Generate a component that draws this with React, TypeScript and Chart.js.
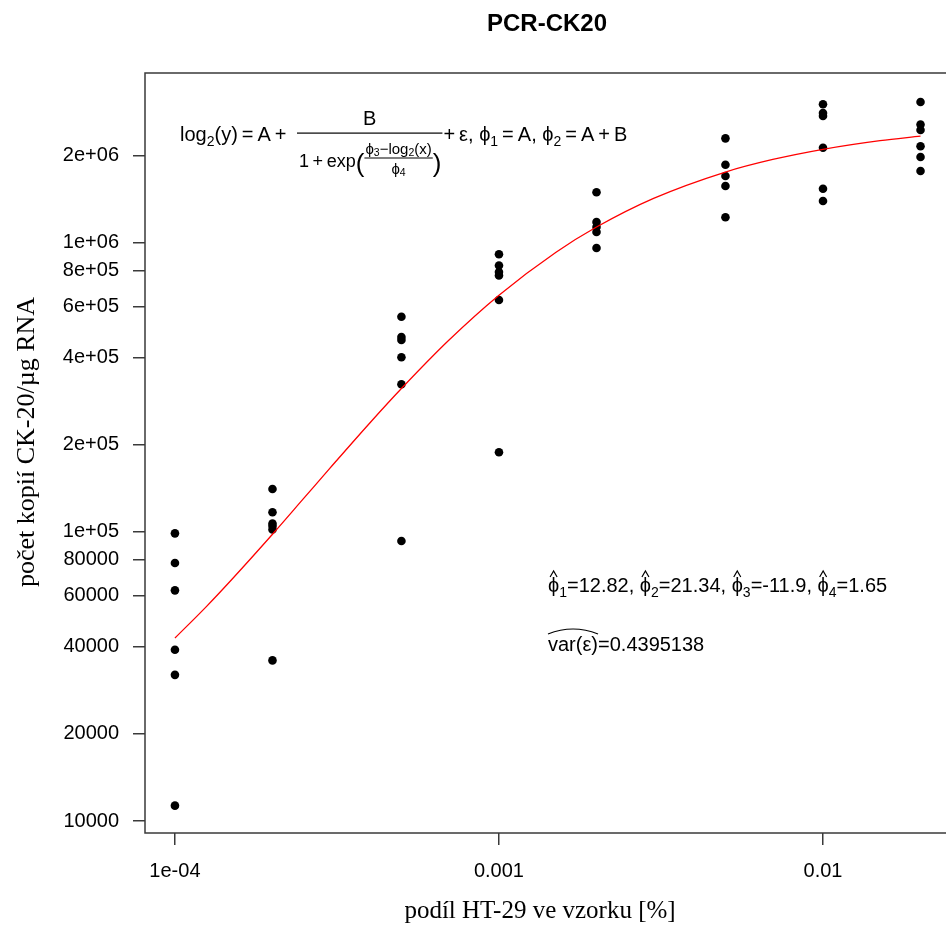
import React, { useEffect, useRef } from "react";
import { Chart, registerables } from "chart.js";

Chart.register(...registerables);

// ---- data ----
const DOSES = [1e-4, 2e-4, 5e-4, 1e-3, 2e-3, 5e-3, 1e-2, 2e-2];
const COPIES_0_0001 = [98700, 77950, 62700, 39100, 32000, 11300];
const COPIES_0_0002 = [140500, 116700, 106700, 104600, 101800, 35900];
const COPIES_0_0005 = [553600, 471000, 459700, 400700, 323200, 92900];
const COPIES_0_001 = [909700, 832100, 790000, 768500, 632200, 188200];
const COPIES_0_002 = [1490000, 1176000, 1130000, 1086000, 956000];
const COPIES_0_005 = [2289000, 1856000, 1697000, 1566000, 1221000];
const COPIES_0_01 = [3002000, 2801000, 2735000, 2125000, 1533000, 1390000];
const COPIES_0_02 = [3057000, 2556000, 2447000, 2149000, 1973000, 1766000];
const GROUPS = [
  COPIES_0_0001,
  COPIES_0_0002,
  COPIES_0_0005,
  COPIES_0_001,
  COPIES_0_002,
  COPIES_0_005,
  COPIES_0_01,
  COPIES_0_02,
];

// fitted curve
const CURVE_X = [1e-4, 1.25e-4, 1.5e-4, 2e-4, 2.5e-4, 3e-4, 4e-4, 5e-4, 7e-4, 1e-3, 1.5e-3, 2e-3, 3e-3, 5e-3, 7e-3, 1e-2, 1.5e-2, 2e-2];
const CURVE_Y = [42900, 55100, 68500, 98000, 130600, 165200, 238100, 312600, 458900, 656800, 924900, 1130000, 1419600, 1751000, 1935000, 2098000, 2248000, 2330000];

const X_TICKS = [1e-4, 1e-3, 1e-2];
const X_TICK_LABELS = ["1e-04", "0.001", "0.01"];
const Y_TICKS = [10000, 20000, 40000, 60000, 80000, 1e5, 2e5, 4e5, 6e5, 8e5, 1e6, 2e6];
const Y_TICK_LABELS = ["10000", "20000", "40000", "60000", "80000", "1e+05", "2e+05", "4e+05", "6e+05", "8e+05", "1e+06", "2e+06"];

const X_MIN = 8.083e-5;
const X_MAX = 0.02466;
const Y_MIN = 9089;
const Y_MAX = 3851000;

const TITLE = "PCR-CK20";
const X_TITLE = "podíl HT-29 ve vzorku [%]";
const Y_TITLE = "počet kopií CK-20/µg RNA";
const PHI_HATS = ["12.82", "21.34", "-11.9", "1.65"];
const VAR_EPS = "0.4395138";

const SANS = '"Liberation Sans", Arial, Helvetica, sans-serif';
const SERIF = '"Liberation Serif", "Times New Roman", Times, serif';
const TS = "\u2009"; // thin space

type Run = { t: string; s: number; dy?: number; hat?: boolean };

function drawRuns(ctx: CanvasRenderingContext2D, x: number, y: number, runs: Run[]) {
  let cx = x;
  for (const r of runs) {
    ctx.font = `${r.s}px ${SANS}`;
    ctx.fillText(r.t, cx, y + (r.dy || 0));
    const w = ctx.measureText(r.t).width;
    if (r.hat) {
      const hx = cx + w / 2;
      ctx.beginPath();
      ctx.moveTo(hx - 3.5, y - 15);
      ctx.lineTo(hx, y - 21);
      ctx.lineTo(hx + 3.5, y - 15);
      ctx.lineWidth = 1.2;
      ctx.stroke();
    }
    cx += w;
  }
  return cx;
}

function runsWidth(ctx: CanvasRenderingContext2D, runs: Run[]) {
  let w = 0;
  for (const r of runs) {
    ctx.font = `${r.s}px ${SANS}`;
    w += ctx.measureText(r.t).width;
  }
  return w;
}

const decorPlugin = {
  id: "decor",
  afterDraw(chart: any) {
    const ctx: CanvasRenderingContext2D = chart.ctx;
    const a = chart.chartArea;
    ctx.save();
    // frame
    ctx.strokeStyle = "#3a3a3a";
    ctx.lineWidth = 1.5;
    ctx.strokeRect(a.left, a.top, a.right - a.left, a.bottom - a.top);

    ctx.fillStyle = "#000";
    ctx.strokeStyle = "#000";
    // main title
    ctx.font = `bold 24px ${SANS}`;
    ctx.textAlign = "center";
    ctx.textBaseline = "alphabetic";
    ctx.fillText(TITLE, 547, 31);

    // axis titles
    ctx.font = `25px ${SERIF}`;
    ctx.textBaseline = "middle";
    ctx.fillText(X_TITLE, 540, 911);
    ctx.font = `26px ${SERIF}`;
    ctx.save();
    ctx.translate(27, 442);
    ctx.rotate(-Math.PI / 2);
    ctx.fillText(Y_TITLE, 0, 0);
    ctx.restore();

    // formula
    ctx.textAlign = "left";
    ctx.textBaseline = "alphabetic";
    drawRuns(ctx, 180, 141, [
      { t: "log", s: 20 },
      { t: "2", s: 14, dy: 5 },
      { t: `(y)${TS}=${TS}A${TS}+`, s: 20 },
    ]);
    // denominator
    const den1: Run[] = [{ t: `1${TS}+${TS}exp`, s: 18 }];
    const innerNum: Run[] = [
      { t: "ϕ", s: 15 },
      { t: "3", s: 10.5, dy: 2 },
      { t: "−log", s: 15 },
      { t: "2", s: 10.5, dy: 2 },
      { t: "(x)", s: 15 },
    ];
    const innerDen: Run[] = [
      { t: "ϕ", s: 15 },
      { t: "4", s: 10.5, dy: 2 },
    ];
    const barL = 297;
    let dx = drawRuns(ctx, barL + 2, 167, den1);
    ctx.font = `26px ${SANS}`;
    ctx.fillText("(", dx, 172);
    dx += ctx.measureText("(").width;
    const wn = runsWidth(ctx, innerNum);
    const wd = runsWidth(ctx, innerDen);
    const innerC = dx + wn / 2 + 1;
    drawRuns(ctx, innerC - wn / 2, 154, innerNum);
    ctx.fillRect(dx, 157.5, wn + 2, 1);
    drawRuns(ctx, innerC - wd / 2, 174, innerDen);
    dx += wn + 2;
    ctx.font = `26px ${SANS}`;
    ctx.fillText(")", dx, 172);
    dx += ctx.measureText(")").width;
    const barR = dx + 1;
    ctx.fillRect(barL, 132.5, barR - barL, 1.2);
    ctx.font = `20px ${SANS}`;
    ctx.textAlign = "center";
    ctx.fillText("B", (barL + barR) / 2, 125);
    ctx.textAlign = "left";
    drawRuns(ctx, barR + 1, 141, [
      { t: `+${TS}ε, ϕ`, s: 20 },
      { t: "1", s: 14, dy: 5 },
      { t: `${TS}=${TS}A, ϕ`, s: 20 },
      { t: "2", s: 14, dy: 5 },
      { t: `${TS}=${TS}A${TS}+${TS}B`, s: 20 },
    ]);

    // estimates
    const est: Run[] = [];
    PHI_HATS.forEach((v, i) => {
      est.push({ t: "ϕ", s: 20, hat: true });
      est.push({ t: String(i + 1), s: 14, dy: 5 });
      est.push({ t: "=" + v + (i < PHI_HATS.length - 1 ? ", " : ""), s: 20 });
    });
    drawRuns(ctx, 548, 592, est);

    // variance
    ctx.font = `20px ${SANS}`;
    const wv = ctx.measureText("var(ε)").width;
    ctx.fillText("var(ε)=" + VAR_EPS, 548, 651);
    ctx.beginPath();
    ctx.moveTo(548, 634);
    ctx.quadraticCurveTo(548 + wv / 2, 624, 548 + wv, 634);
    ctx.lineWidth = 1.2;
    ctx.stroke();

    ctx.restore();
  },
};

export default function App() {
  const ref = useRef<HTMLCanvasElement>(null);
  useEffect(() => {
    const canvas = ref.current;
    if (!canvas) return;
    const points: { x: number; y: number }[] = [];
    GROUPS.forEach((g, i) => g.forEach((v) => points.push({ x: DOSES[i], y: v })));
    const curve = CURVE_X.map((x, i) => ({ x, y: CURVE_Y[i] }));

    const axisGrid = {
      display: true,
      drawOnChartArea: false,
      drawTicks: true,
      tickLength: 12,
      color: "#3a3a3a",
      lineWidth: 1.5,
    };

    const chart = new Chart(canvas, {
      type: "scatter",
      data: {
        datasets: [
          {
            label: "fit",
            data: curve,
            showLine: true,
            borderColor: "#ff0000",
            borderWidth: 1.3,
            pointRadius: 0,
            cubicInterpolationMode: "monotone",
            order: 0,
          } as any,
          {
            label: "data",
            data: points,
            showLine: false,
            pointRadius: 4.3,
            pointBackgroundColor: "#000",
            pointBorderWidth: 0,
            order: 1,
          } as any,
        ],
      },
      options: {
        responsive: false,
        animation: false,
        devicePixelRatio: 1,
        layout: { padding: { top: 73, left: 0, right: 10, bottom: 0 } },
        plugins: {
          legend: { display: false },
          tooltip: { enabled: false },
          title: { display: false },
        },
        scales: {
          x: {
            type: "logarithmic",
            position: "bottom",
            min: X_MIN,
            max: X_MAX,
            afterBuildTicks: (s: any) => {
              s.ticks = X_TICKS.map((v) => ({ value: v }));
            },
            afterFit: (s: any) => {
              s.height = 96;
            },
            ticks: {
              autoSkip: false,
              maxRotation: 0,
              minRotation: 0,
              padding: 14,
              color: "#000",
              font: { family: SANS, size: 20 },
              callback: (_v: any, i: number) => X_TICK_LABELS[i],
            },
            grid: axisGrid,
            border: { display: false },
          },
          y: {
            type: "logarithmic",
            position: "left",
            min: Y_MIN,
            max: Y_MAX,
            afterBuildTicks: (s: any) => {
              s.ticks = Y_TICKS.map((v) => ({ value: v }));
            },
            afterFit: (s: any) => {
              s.width = 145;
            },
            ticks: {
              autoSkip: false,
              padding: 14,
              color: "#000",
              font: { family: SANS, size: 20 },
              callback: (_v: any, i: number) => Y_TICK_LABELS[i],
            },
            grid: axisGrid,
            border: { display: false },
          },
        },
      } as any,
      plugins: [decorPlugin],
    });
    return () => chart.destroy();
  }, []);

  return (
    <div
      style={{
        position: "fixed",
        left: 0,
        top: 0,
        width: 946,
        height: 929,
        overflow: "hidden",
        background: "#fff",
      }}
    >
      <canvas ref={ref} width={960} height={929} style={{ display: "block", width: 960, height: 929 }} />
    </div>
  );
}
